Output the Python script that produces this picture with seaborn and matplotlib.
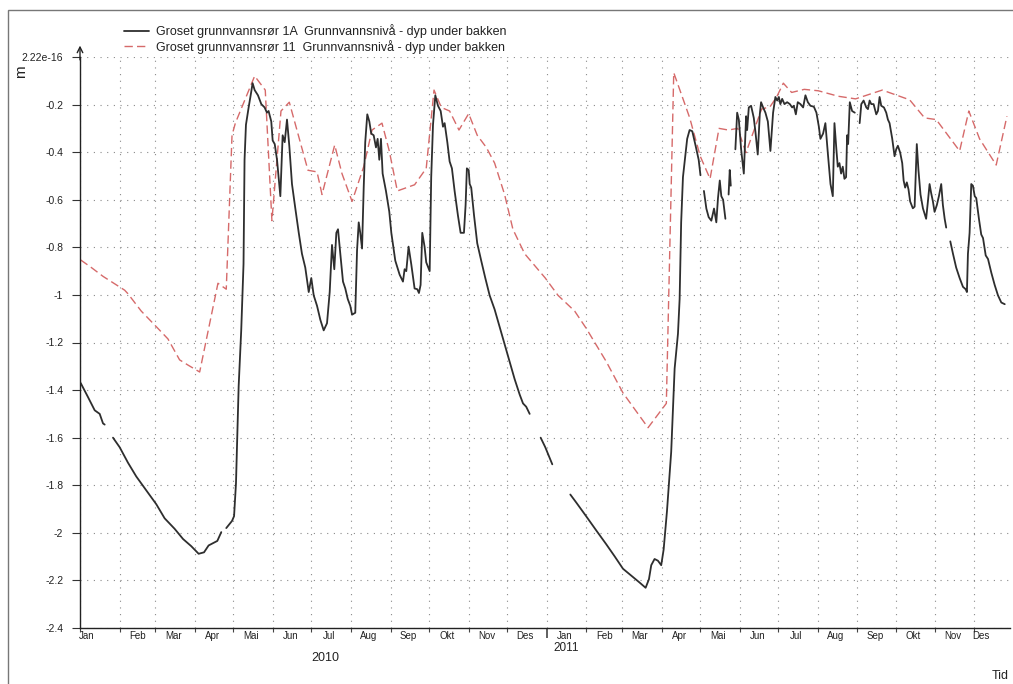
import numpy as np
import pandas as pd
import seaborn as sns
import matplotlib.pyplot as plt
import matplotlib.dates as mdates
from matplotlib.lines import Line2D
from matplotlib.patches import Rectangle

# days counted from 2010-01-01, nan marks a gap in the logger series
tube_1a_day = [
    0.5, 6.3, 11.5, 15.4, 18, 19.3, np.nan,
    25.8, 31, 37.5, 44, 51.9, 59.7, 66.2, 74, 80.6, 87, 92.8, 97, 100.6, 107.4, 110.5, np.nan,
    114.4, 118.9, 120.5, 122, 124.1, 126.1, 127.9, 128.7, 129.8, 131.9, 133.7, 135, 136.6, 139.2,
    141.8, 144.4, 146.2, 147.5, 149.6, 150.7, 152.3, 154.1, 156.7, 158.5, 160.1, 161.9, 163.7,
    165.8, 168.4, 171.1, 173.6, 176.2, 178.9, 180.9, 182.8, 185.4, 188, 190.6, 193.2, 195.3,
    197.1, 198.9, 200.5, 201.8, 203.6, 205.7, 207.5, 209.4, 211.4, 212.8, 215.3, 216.7, 218,
    219.2, 220.6, 221.9, 223.1, 224.7, 226.3, 227.8, 229.7, 231.5, 232.8, 234.1, 235.4, 236.7,
    239.3, 241.9, 243.5, 246.6, 250, 252.6, 253.9, 255.2, 257, 259.1, 261.7, 263.8, 265.1,
    266.4, 267.7, 269.5, 270.8, 273.5, 274.7, 276.1, 277.9, 280, 282.1, 283.9, 285.2, 287.3,
    289.1, 290.9, 293, 295.6, 297.7, 300.3, 301.6, 302.6, 304, 304.8, 306, 308.2, 310.7, 313.8,
    317, 320.4, 324.3, 328.2, 332.1, 336, 339.9, 343.9, 346.5, 349, 351.7, np.nan,
    360.3, 363.9, 369.4, np.nan,
    383.5, 388.2, 396, 403.8, 411.6, 418.2, 424.7, 431.2, 437.7, 442.4, 445, 446.8, 449.4, 452,
    454.6, 456.5, 459.1, 462.4, 465.1, 467.7, 469, 470.2, 471.6, 473.4, 474.9, 476.8, 478.9,
    481.5, 483.9, 485.3, np.nan,
    488, 489.9, 491.7, 493.8, 495.9, 497.7, 499, 500.4, 501.6, 503, 504.8, np.nan,
    507.3, 508.2, 509, np.nan,
    512.6, 514, 515.3, 517.1, 519.2, 521, 521.8, 523.1, 524.9, 527, 528.3, 530.1, 531.7, 532.7,
    534.3, 536.1, 538, 540, 542.1, 543.9, 545.3, 546.6, 547.8, 549.2, 551, 553.1, 555.2, 557,
    558.3, 559.9, 561.4, 563.5, 565.6, 567.4, 569.3, 571.3, 574, 576, 577.9, 579.1, 581.2, 583,
    584.9, 587, 588.8, 590.1, 591.6, 592.7, 594, 595.3, 596.6, 597.9, 599.2, 600, 600.8, 602.1,
    603.9, 606, np.nan,
    609.8, 611.1, 612.9, 615, 616.3, 617.6, 618.9, 620.7, 622.8, 624.1, 625.4, 626.7, 628.8,
    630.6, 631.9, 633.2, 635.3, 637.1, 638.4, 639.7, 641.5, 643.1, 644.2, 645.4, 646.7, 648,
    649.3, 651.4, 652.8, 654.5, 655.8, 657.4, 659.3, 661.8, 663.2, 664.5, 665.7, 667.1, 668.4,
    670.2, 671.8, 673.6, 674.9, 676.3, 677.5, np.nan,
    680.7, 682.8, 685.3, 688, 690.6, 692.7, 693.7, 694.5, 695.8, 697.1, 698.4, 699.8, 701, 703.1,
    704.9, 706.3, 708.4, 710.2, 712.8, 715.4, 718, 720.6, 723.3,
]
tube_1a_level = [
    -1.37, -1.43, -1.485, -1.50, -1.54, -1.545, np.nan,
    -1.60, -1.64, -1.705, -1.763, -1.822, -1.88, -1.939, -1.983, -2.026, -2.056, -2.088, -2.082,
    -2.053, -2.034, -1.997, np.nan,
    -1.98, -1.95, -1.93, -1.792, -1.383, -1.149, -0.87, -0.432, -0.285, -0.212, -0.154, -0.110,
    -0.139, -0.161, -0.198, -0.212, -0.234, -0.227, -0.271, -0.351, -0.366, -0.432, -0.585,
    -0.329, -0.358, -0.263, -0.373, -0.534, -0.636, -0.739, -0.827, -0.885, -0.988, -0.929,
    -1.002, -1.046, -1.105, -1.149, -1.119, -0.988, -0.790, -0.892, -0.739, -0.724, -0.827,
    -0.944, -0.973, -1.017, -1.046, -1.083, -1.075, -0.812, -0.695, -0.739, -0.805, -0.549,
    -0.358, -0.241, -0.271, -0.322, -0.329, -0.380, -0.344, -0.432, -0.344, -0.490, -0.563,
    -0.65, -0.739, -0.856, -0.915, -0.944, -0.892, -0.900, -0.797, -0.871, -0.973, -0.976,
    -0.992, -0.958, -0.739, -0.797, -0.863, -0.900, -0.505, -0.285, -0.161, -0.205, -0.227,
    -0.293, -0.278, -0.358, -0.439, -0.468, -0.563, -0.666, -0.739, -0.739, -0.622, -0.468,
    -0.475, -0.534, -0.549, -0.666, -0.783, -0.856, -0.929, -1.002, -1.061, -1.134, -1.207,
    -1.280, -1.353, -1.419, -1.456, -1.470, -1.500, np.nan,
    -1.60, -1.64, -1.712, np.nan,
    -1.839, -1.873, -1.931, -1.990, -2.048, -2.099, -2.151, -2.180, -2.209, -2.231, -2.195,
    -2.136, -2.110, -2.117, -2.136, -2.070, -1.909, -1.660, -1.309, -1.163, -1.017, -0.695,
    -0.505, -0.417, -0.344, -0.307, -0.312, -0.373, -0.432, -0.497, np.nan,
    -0.563, -0.637, -0.673, -0.688, -0.637, -0.695, -0.593, -0.519, -0.585, -0.600, -0.680, np.nan,
    -0.578, -0.475, -0.541, np.nan,
    -0.388, -0.234, -0.263, -0.388, -0.490, -0.249, -0.307, -0.212, -0.205, -0.256, -0.315,
    -0.410, -0.241, -0.190, -0.212, -0.234, -0.271, -0.395, -0.234, -0.168, -0.183, -0.168,
    -0.198, -0.176, -0.198, -0.190, -0.198, -0.212, -0.205, -0.241, -0.190, -0.198, -0.212,
    -0.161, -0.190, -0.205, -0.209, -0.234, -0.293, -0.344, -0.322, -0.278, -0.403, -0.534,
    -0.585, -0.278, -0.388, -0.461, -0.446, -0.490, -0.461, -0.512, -0.505, -0.329, -0.366,
    -0.190, -0.227, -0.234, np.nan,
    -0.278, -0.198, -0.183, -0.212, -0.219, -0.183, -0.198, -0.198, -0.241, -0.227, -0.168,
    -0.205, -0.212, -0.234, -0.263, -0.278, -0.344, -0.417, -0.388, -0.373, -0.402, -0.446,
    -0.519, -0.549, -0.527, -0.556, -0.607, -0.636, -0.629, -0.366, -0.476, -0.578, -0.636,
    -0.680, -0.607, -0.534, -0.571, -0.607, -0.651, -0.622, -0.585, -0.534, -0.622, -0.680,
    -0.717, np.nan,
    -0.775, -0.827, -0.885, -0.929, -0.966, -0.976, -0.988, -0.827, -0.739, -0.534, -0.541,
    -0.585, -0.593, -0.680, -0.746, -0.761, -0.834, -0.849, -0.907, -0.958, -1.002, -1.032,
    -1.039,
]

tube_11_day = [
    0.5, 8.9, 18, 34.9, 37.5, 47.9, 61, 68.8, 77.9, 84.5, 93.6, 107.9, 114.4, 118.9, 121.5,
    136.6, 144.9, 150.1, 157.2, 163.7, 178.3, 185.4, 189.3, 199.2, 204.9, 212.8, 221.9, 228.4,
    236.2, 241.9, 248.2, 261.7, 270.8, 276.9, 282.6, 289.1, 296.4, 304, 310.7, 317.8, 324.3,
    332.1, 338.6, 347.8, 363.9, 373.9, 386.9, 396, 411.6, 424.7, 444.3, 458.6, 464.4, 476.9,
    485.1, 492.8, 499.8, 507.1, 514.4, 520.9, 533.1, 539.7, 544.9, 550.1, 556.6, 566.5, 577.5,
    593.1, 606.6, 627.5, 648.9, 660.6, 669.7, 688, 695.2, 703.6, 716.6, 725,
]
tube_11_level = [
    -0.853, -0.885, -0.922, -0.980, -0.995, -1.068, -1.141, -1.185, -1.273, -1.295, -1.324,
    -0.951, -0.976, -0.329, -0.278, -0.080, -0.139, -0.688, -0.227, -0.190, -0.476, -0.483,
    -0.578, -0.370, -0.490, -0.607, -0.461, -0.307, -0.278, -0.395, -0.563, -0.537, -0.468,
    -0.139, -0.212, -0.227, -0.307, -0.238, -0.329, -0.380, -0.446, -0.578, -0.724, -0.827,
    -0.929, -1.002, -1.068, -1.141, -1.280, -1.412, -1.558, -1.456, -0.066, -0.256, -0.417,
    -0.512, -0.300, -0.307, -0.300, -0.402, -0.219, -0.209, -0.168, -0.110, -0.149, -0.136,
    -0.142, -0.165, -0.176, -0.139, -0.180, -0.256, -0.263, -0.395, -0.227, -0.344, -0.454,
    -0.249,
]

month_names = ["Jan", "Feb", "Mar", "Apr", "Mai", "Jun", "Jul", "Aug", "Sep", "Okt", "Nov", "Des"]
y_ticks = [0, -0.2, -0.4, -0.6, -0.8, -1, -1.2, -1.4, -1.6, -1.8, -2, -2.2, -2.4]
y_labels = ["2.22e-16", "-0.2", "-0.4", "-0.6", "-0.8", "-1", "-1.2", "-1.4", "-1.6",
            "-1.8", "-2", "-2.2", "-2.4"]
name_1a = "Groset grunnvannsrør 1A  Grunnvannsnivå - dyp under bakken"
name_11 = "Groset grunnvannsrør 11  Grunnvannsnivå - dyp under bakken"

start = pd.Timestamp("2010-01-01")


def to_frame(days, levels):
    df = pd.DataFrame({"day": days, "level": levels})
    df["seg"] = df["level"].isna().cumsum()
    df = df.dropna()
    df["date"] = start + pd.to_timedelta(df["day"], unit="D")
    return df


df_1a = to_frame(tube_1a_day, tube_1a_level)
df_11 = to_frame(tube_11_day, tube_11_level)

sns.set_theme(style="white")
plt.rcParams["font.family"] = ["Liberation Sans", "DejaVu Sans"]

W, H = 1013, 684
fig = plt.figure(figsize=(W / 100, H / 100), dpi=100)
ax = fig.add_axes([80 / W, 1 - 628 / H, 930 / W, 571 / H])

black = "#2e2e2e"
red = "#d66a6a"
sns.lineplot(data=df_11, x="date", y="level", color=red, lw=1.0,
             linestyle=(0, (6, 3)), estimator=None, sort=False, ax=ax, legend=False)
sns.lineplot(data=df_1a, x="date", y="level", units="seg", estimator=None, sort=False,
             color=black, lw=1.3, ax=ax, legend=False)

ax.set_xlim(start, start + pd.Timedelta(days=727.4))
ax.set_ylim(-2.4, 0)
ax.set_xlabel("")
ax.set_ylabel("")

# month boundaries as major ticks, month names in the middle of each month
ax.xaxis.set_major_locator(mdates.MonthLocator())
ax.xaxis.set_major_formatter(plt.NullFormatter())
mid_dates = []
mid_labels = []
for yr in (2010, 2011):
    for m in range(1, 13):
        d = pd.Timestamp(year=yr, month=m, day=15)
        if yr == 2010 and m == 1:
            d = pd.Timestamp("2010-01-06")
        if yr == 2011 and m == 12:
            d = pd.Timestamp("2011-12-07")
        mid_dates.append(d)
        mid_labels.append(month_names[m - 1])
ax.set_xticks(mdates.date2num(mid_dates), minor=True)
ax.set_xticklabels(mid_labels, minor=True)
ax.tick_params(axis="x", which="minor", length=0, labelsize=7, pad=2, labelcolor="#222")
ax.tick_params(axis="x", which="major", length=3, width=0.8, color="#444", direction="out",
               bottom=True)
for tick, loc in zip(ax.xaxis.get_major_ticks(), ax.get_xticks()):
    if abs(loc - mdates.date2num(pd.Timestamp("2011-01-01"))) < 0.5:
        tick.tick1line.set_markersize(7)
        tick.tick1line.set_markeredgewidth(1.2)
        tick.tick1line.set_color("#111")

ax.set_yticks(y_ticks)
ax.set_yticklabels(y_labels)
ax.tick_params(axis="y", which="major", length=6, width=0.8, color="#333", direction="out",
               labelsize=7.5, pad=6, left=True, labelcolor="#222")

ax.grid(True, which="major", linestyle=(0, (1, 5)), color="#8a8a8a", lw=0.8)
for side in ("top", "right"):
    ax.spines[side].set_visible(False)
for side in ("left", "bottom"):
    ax.spines[side].set_color("#222")
    ax.spines[side].set_linewidth(1.0)

ax.annotate("", xy=(0, 1.02), xytext=(0, 0.995), xycoords="axes fraction",
            arrowprops=dict(arrowstyle="->", lw=1.0, color="#222", mutation_scale=10,
                            shrinkA=0, shrinkB=0))

fig.text(21 / W, 1 - 72 / H, "m", rotation=90, fontsize=11, ha="center", va="center",
         color="#222")
fig.text(325 / W, 1 - 658 / H, "2010", fontsize=9, ha="center", va="center", color="#222")
fig.text(566 / W, 1 - 648 / H, "2011", fontsize=8.5, ha="center", va="center", color="#222")
fig.text(1000 / W, 1 - 676 / H, "Tid", fontsize=9, ha="center", va="center", color="#222")

handles = [Line2D([], [], color=black, lw=1.3),
           Line2D([], [], color=red, lw=1.0, linestyle=(0, (6, 3)))]
fig.legend(handles, [name_1a, name_11], loc="upper left",
           bbox_to_anchor=(124 / W, 1 - 24 / H), frameon=False, fontsize=9,
           handlelength=2.0, handletextpad=0.55, labelspacing=0.15, borderpad=0,
           borderaxespad=0, labelcolor="#222")

fig.patches.append(Rectangle((8 / W, -0.1), 1.2, 1.1 - 10 / H, transform=fig.transFigure,
                             fill=False, ec="#777777", lw=1.0))

fig.savefig("out.png", dpi=100)
